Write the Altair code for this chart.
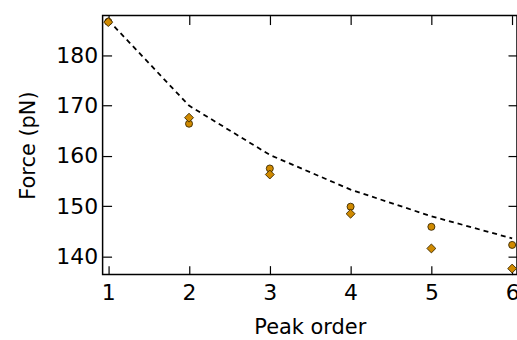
import altair as alt
import pandas as pd

peak = [1, 2, 3, 4, 5, 6]
force_circle = [186.7, 166.4, 157.5, 149.9, 145.9, 142.3]
force_diamond = [186.6, 167.6, 156.3, 148.5, 141.6, 137.6]
force_fit = [187.0, 170.0, 160.2, 153.3, 148.0, 143.6]

x_ticks = [1, 2, 3, 4, 5, 6]
y_ticks = [140, 150, 160, 170, 180]

df = pd.DataFrame({"peak": peak, "circle": force_circle,
                   "diamond": force_diamond, "fit": force_fit})

FONT = "DejaVu Sans"
FILL = "#D08A00"
EDGE = "#3a2800"

xs = alt.Scale(domain=[0.93, 6.06], nice=False, zero=False)
ys = alt.Scale(domain=[136.4, 187.9], nice=False, zero=False)

x_bottom = alt.X("peak:Q", scale=xs, axis=alt.Axis(
    title="Peak order", values=x_ticks, format="d", orient="bottom",
    offset=-9, tickSize=9, domain=False, labelPadding=8, grid=False,
    titlePadding=13))
y_left = alt.Y("fit:Q", scale=ys, axis=alt.Axis(
    title="Force (pN)", values=y_ticks, orient="left",
    offset=-9, tickSize=9, domain=False, labelPadding=5, grid=False,
    titlePadding=17))

line = alt.Chart(df).mark_line(
    color="black", strokeDash=[5, 4], strokeWidth=1.8, clip=True
).encode(x=x_bottom, y=y_left)

circles = alt.Chart(df).mark_point(
    shape="circle", filled=True, fill=FILL, stroke=EDGE, strokeWidth=0.9,
    size=50, opacity=1, clip=True
).encode(x=alt.X("peak:Q", scale=xs, axis=None),
         y=alt.Y("circle:Q", scale=ys, axis=None))

diamonds = alt.Chart(df).mark_point(
    shape="diamond", filled=True, fill=FILL, stroke=EDGE, strokeWidth=0.9,
    size=80, opacity=1, clip=True
).encode(x=alt.X("peak:Q", scale=xs, axis=None),
         y=alt.Y("diamond:Q", scale=ys, axis=None))

mirror = alt.Chart(df).mark_point(opacity=0).encode(
    x=alt.X("peak:Q", scale=xs, axis=alt.Axis(
        orient="top", values=x_ticks, labels=False, title=None,
        offset=-9, tickSize=9, domain=False, grid=False)),
    y=alt.Y("fit:Q", scale=ys, axis=alt.Axis(
        orient="right", values=y_ticks, labels=False, title=None,
        offset=-9, tickSize=9, domain=False, grid=False)),
)

chart = alt.layer(line, mirror, circles, diamonds).resolve_axis(
    x="independent", y="independent"
).properties(
    width=416, height=260,
    autosize=alt.AutoSizeParams(type="none"),
    padding={"left": 103, "top": 15, "right": 0, "bottom": 65},
).configure_view(
    stroke="black", strokeWidth=1.5
).configure_axis(
    labelFont=FONT, titleFont=FONT, labelFontSize=22, titleFontSize=21,
    labelColor="black", titleColor="black", titleFontWeight="normal",
    tickColor="black", tickWidth=1.2
)

chart.save("out.html", embed_options={"renderer": "svg", "actions": False})
